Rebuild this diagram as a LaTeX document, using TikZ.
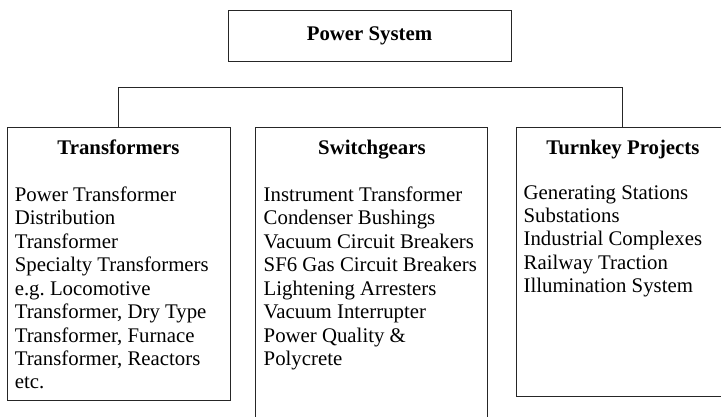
\documentclass[tikz,border=0pt]{standalone}
\usepackage{fontspec}
\setmainfont{Liberation Serif}
\usepackage{tikz}
\usetikzlibrary{positioning}
\frenchspacing

\begin{document}
\begin{tikzpicture}[
  x=0.75pt, y=0.75pt,
  box/.style={draw=black!85, line width=0.7pt, inner sep=0pt},
  head/.style={inner sep=0pt, font=\fontsize{15.6}{17.6}\selectfont\bfseries},
  list/.style={inner sep=0pt, align=left, font=\fontsize{15.6}{17.6}\selectfont},
  link/.style={draw=black!85, line width=0.7pt}]
  \useasboundingbox (0,0) rectangle (721,-417);
  \clip (0,0) rectangle (721,-417);
  % top box
  \node[box, minimum width=212.25pt, minimum height=38.25pt, head] (ps) at (369.5,-35.5) {\raisebox{-1.5pt}{Power System}};
  % the three columns
  \node[box, anchor=north, minimum width=167.25pt, minimum height=204.75pt] (tr) at (118.5,-127) {};
  \node[box, right=18.75pt of tr.north east, anchor=north west, minimum width=174pt, minimum height=222pt] (sw) {};
  \node[box, right=21pt of sw.north east, anchor=north west, minimum width=159pt, minimum height=201.75pt] (tk) {};
  \node[head, below=9.4pt of tr.north] (trh) {Transformers};
  \node[head, below=9.4pt of sw.north] (swh) {Switchgears};
  \node[head, below=9.4pt of tk.north] (tkh) {Turnkey Projects};
  \node[list, below right=44.5pt and 6pt of tr.north west, anchor=north west] (trl) {Power Transformer\\Distribution\\Transformer\\Specialty Transformers\\e.g. Locomotive\\Transformer, Dry Type\\Transformer, Furnace\\Transformer, Reactors\\etc.};
  \node[list, below right=44.5pt and 6pt of sw.north west, anchor=north west] (swl) {Instrument Transformer\\Condenser Bushings\\Vacuum Circuit Breakers\\SF6 Gas Circuit Breakers\\Lightening Arresters\\Vacuum Interrupter\\Power Quality \&\\Polycrete};
  \node[list, below right=43.5pt and 5.25pt of tk.north west, anchor=north west] (tkl) {Generating Stations\\Substations\\Industrial Complexes\\Railway Traction\\Illumination System};
  % bus line
  \draw[link] (tr.north) -- ++(0,40) -| (tk.north);
\end{tikzpicture}
\end{document}
